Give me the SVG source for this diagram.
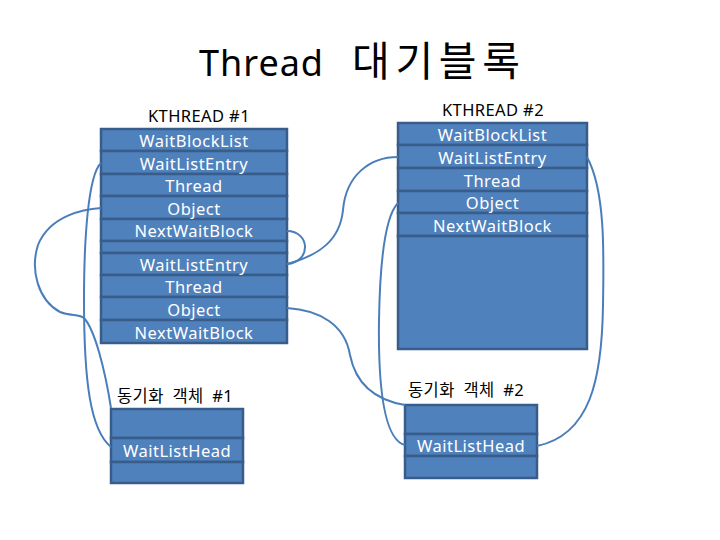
<svg xmlns="http://www.w3.org/2000/svg" width="720" height="540" viewBox="0 0 720 540">
<style>
.cell{fill:#4F81BD;stroke:#385D8A;stroke-width:2.5}
.t{font-family:"Noto Sans","Noto Sans CJK KR",sans-serif;font-size:16.5px;fill:#fff;text-anchor:middle;letter-spacing:0.5px}
.lbl{font-family:"Noto Sans","Noto Sans CJK KR",sans-serif;font-size:16.5px;fill:#000;letter-spacing:0.4px}
.c{fill:none;stroke:#4A7EBB;stroke-width:2}
</style>
<rect width="720" height="540" fill="#fff"/>
<text x="198" y="76" font-family="Noto Sans, Noto Sans CJK KR, sans-serif" font-size="36" fill="#000"><tspan x="199" textLength="124" lengthAdjust="spacing">Thread</tspan> <tspan x="352" font-family="Noto Sans CJK KR, sans-serif" font-size="41" textLength="168" lengthAdjust="spacing">대기블록</tspan></text>

<g id="kthread1">
<text class="lbl" x="199" y="122" text-anchor="middle">KTHREAD #1</text>
<rect class="cell" x="101" y="129" width="186" height="22"/>
<rect class="cell" x="101" y="151" width="186" height="23"/>
<rect class="cell" x="101" y="174" width="186" height="22"/>
<rect class="cell" x="101" y="196" width="186" height="23"/>
<rect class="cell" x="101" y="219" width="186" height="22"/>
<rect class="cell" x="101" y="241" width="186" height="12"/>
<rect class="cell" x="101" y="253" width="186" height="22"/>
<rect class="cell" x="101" y="275" width="186" height="22"/>
<rect class="cell" x="101" y="297" width="186" height="23"/>
<rect class="cell" x="101" y="320" width="186" height="23"/>
<text class="t" x="194" y="147">WaitBlockList</text>
<text class="t" x="194" y="169.5">WaitListEntry</text>
<text class="t" x="194" y="192">Thread</text>
<text class="t" x="194" y="214.5">Object</text>
<text class="t" x="194" y="237">NextWaitBlock</text>
<text class="t" x="194" y="271">WaitListEntry</text>
<text class="t" x="194" y="293">Thread</text>
<text class="t" x="194" y="315.5">Object</text>
<text class="t" x="194" y="338.5">NextWaitBlock</text>
</g>

<g id="kthread2">
<text class="lbl" x="493" y="116" text-anchor="middle">KTHREAD #2</text>
<rect class="cell" x="398" y="123" width="189" height="22"/>
<rect class="cell" x="398" y="145" width="189" height="23"/>
<rect class="cell" x="398" y="168" width="189" height="23"/>
<rect class="cell" x="398" y="191" width="189" height="22"/>
<rect class="cell" x="398" y="213" width="189" height="23"/>
<rect class="cell" x="398" y="236" width="189" height="113"/>
<text class="t" x="492.5" y="141">WaitBlockList</text>
<text class="t" x="492.5" y="163.5">WaitListEntry</text>
<text class="t" x="492.5" y="186.5">Thread</text>
<text class="t" x="492.5" y="209">Object</text>
<text class="t" x="492.5" y="231.5">NextWaitBlock</text>
</g>

<g id="syncobj1">
<text class="lbl" x="117" y="402" word-spacing="4" letter-spacing="1">동기화 객체 #1</text>
<rect class="cell" x="111" y="409" width="132" height="29"/>
<rect class="cell" x="111" y="438" width="132" height="24"/>
<rect class="cell" x="111" y="462" width="132" height="21"/>
<text class="t" x="177" y="456.5">WaitListHead</text>
</g>

<g id="syncobj2">
<text class="lbl" x="408" y="396" word-spacing="4" letter-spacing="1">동기화 객체 #2</text>
<rect class="cell" x="405" y="405" width="132" height="29"/>
<rect class="cell" x="405" y="434" width="132" height="22"/>
<rect class="cell" x="405" y="456" width="132" height="22"/>
<text class="t" x="471" y="451.5">WaitListHead</text>
</g>

<g id="connectors">
<path class="c" d="M101,163 C88,175 84,240 84,300 C84,380 90,430 111,447"/>
<path class="c" d="M101,208 C85,209 50,215 38,245 C30,270 38,300 60,312 C70,316 80,314 84,318 C95,330 105,370 111,408"/>
<path class="c" d="M287,231 C310,231 312,262 287,264"/>
<path class="c" d="M287,264 C320,255 340,240 343,210 C346,175 370,157 398,157"/>
<path class="c" d="M287,308 C320,310 345,325 350,355 C356,385 375,400 405,405"/>
<path class="c" d="M398,203 C386,215 380,260 379,320 C378,390 385,440 405,445"/>
<path class="c" d="M587,157 C605,190 604,250 603,305 C602,380 590,435 537,446"/>
</g>
</svg>
